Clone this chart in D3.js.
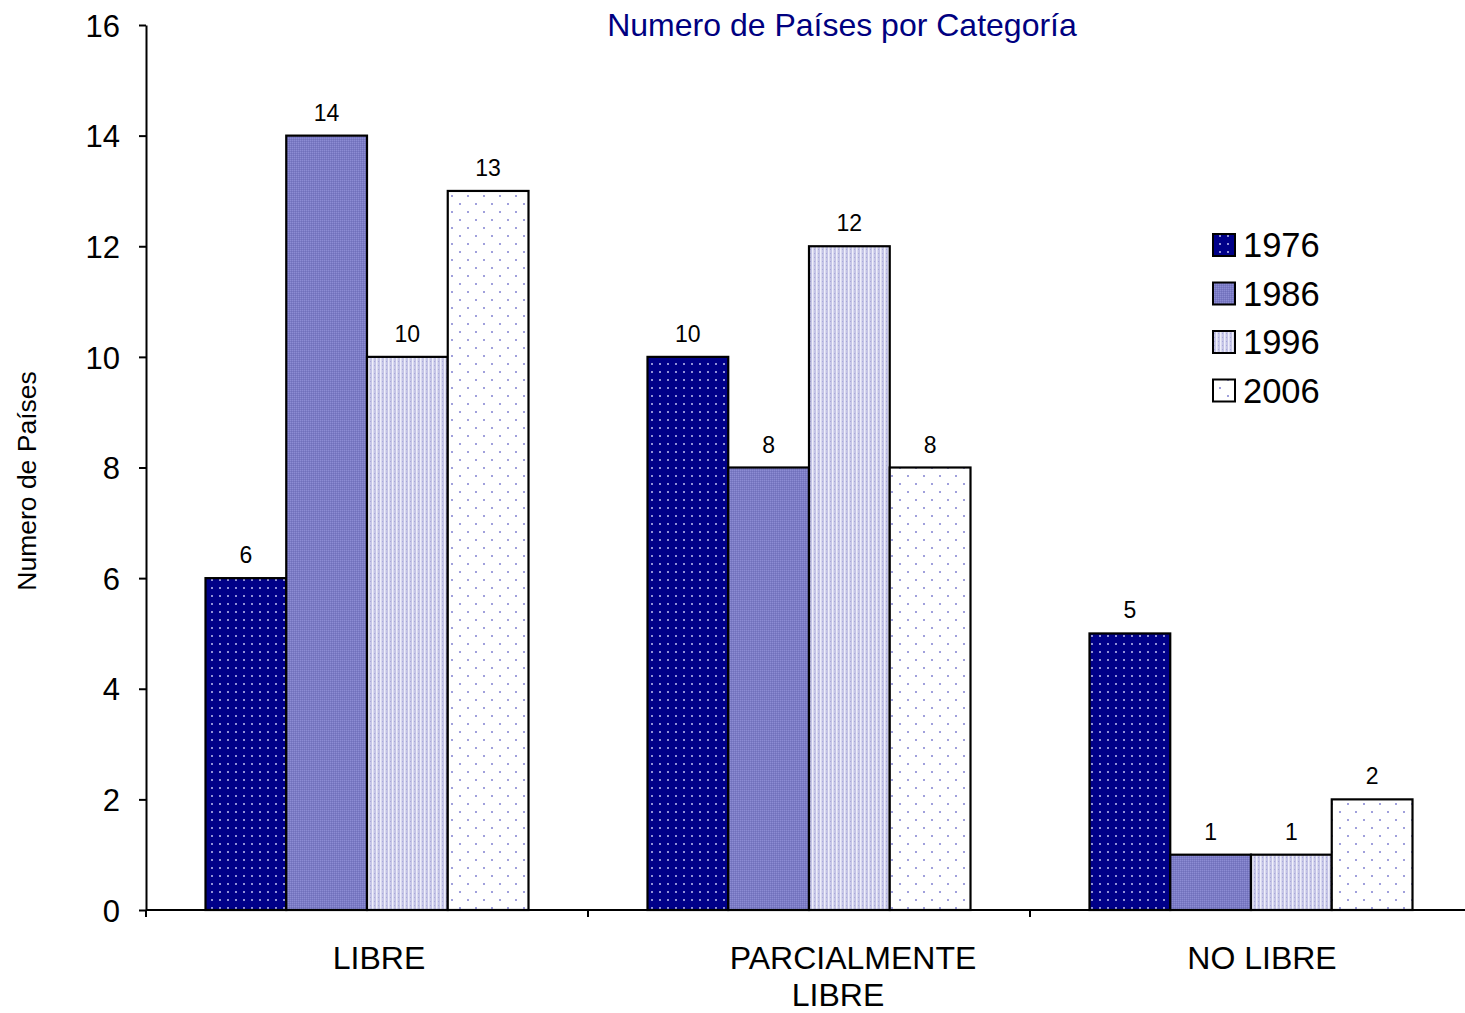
<!DOCTYPE html>
<html><head><meta charset="utf-8">
<script src="https://cdn.jsdelivr.net/npm/d3@7"></script>
<style>body{margin:0;background:#fff}svg{display:block;font-family:"Liberation Sans",Arial,sans-serif}</style>
</head><body>
<svg id="c" width="1465" height="1013"></svg>
<script>
const categories = ["LIBRE", "PARCIALMENTE LIBRE", "NO LIBRE"];
const seriesNames = ["1976", "1986", "1996", "2006"];
const values1976 = [6, 10, 5];
const values1986 = [14, 8, 1];
const values1996 = [10, 12, 1];
const values2006 = [13, 8, 2];
const yTicks = [0, 2, 4, 6, 8, 10, 12, 14, 16];
const seriesValues = [values1976, values1986, values1996, values2006];

const svg = d3.select("#c");
const defs = svg.append("defs");

function pat(id, w, h, bg, dots) {
  const p = defs.append("pattern").attr("id", id).attr("patternUnits", "userSpaceOnUse")
    .attr("width", w).attr("height", h);
  p.append("rect").attr("width", w).attr("height", h).attr("fill", bg);
  dots.forEach(d => p.append("rect").attr("x", d[0]).attr("y", d[1]).attr("width", d[2]).attr("height", d[3]).attr("fill", d[4]));
}
pat("p1976", 8, 8, "#000088", [[3,3,2,2,"#7c7cd0"],[3.5,3.5,1,1,"#d0d0f0"]]);
pat("p1986", 2, 2, "#7c7cc4", [[0,0,1,1,"#8c8cd4"],[1,1,1,1,"#7070bc"]]);
pat("p1996", 4, 4, "#c4c4e6", [[0,0,1.5,4,"#eeeefa"],[2,1,1,1,"#a8a8d8"]]);
pat("p2006", 16, 16, "#ffffff", [[3,3,2,2,"#a0a0dc"],[11,11,2,2,"#a0a0dc"]]);
const fills = ["url(#p1976)", "url(#p1986)", "url(#p1996)", "url(#p2006)"];

const x0 = d3.scaleBand().domain(categories).range([146, 1472]).padding(0);
const x1 = d3.scaleBand().domain(seriesNames).range([59.5, x0.bandwidth() - 59.5]).padding(0);
const y = d3.scaleLinear().domain([0, 16]).range([910, 25]);

const g = svg.append("g");
categories.forEach((c, ci) => {
  seriesNames.forEach((s, si) => {
    const v = seriesValues[si][ci];
    const bx = x0(c) + x1(s);
    g.append("rect").attr("x", bx).attr("y", y(v)).attr("width", x1.bandwidth()).attr("height", y(0) - y(v))
      .attr("fill", fills[si]).attr("stroke", "#000").attr("stroke-width", 2.2);
    g.append("text").attr("x", bx + x1.bandwidth() / 2).attr("y", y(v) - 15)
      .attr("text-anchor", "middle").attr("font-size", 23).attr("fill", "#000").text(v);
  });
});

const yAxis = svg.append("g").attr("transform", "translate(146,0)")
  .call(d3.axisLeft(y).tickValues(yTicks).tickSize(7).tickPadding(19).tickSizeOuter(0));
yAxis.select(".domain").attr("stroke-width", 2);
yAxis.selectAll(".tick line").attr("stroke-width", 2);
yAxis.selectAll(".tick text").attr("font-size", 31).attr("font-family", "Liberation Sans, Arial, sans-serif").attr("fill", "#000").attr("dy", "0.36em");

const xg = svg.append("g");
xg.append("line").attr("x1", 146).attr("x2", 1465).attr("y1", y(0)).attr("y2", y(0)).attr("stroke", "#000").attr("stroke-width", 2);
categories.forEach(c => {
  xg.append("line").attr("x1", x0(c)).attr("x2", x0(c)).attr("y1", y(0)).attr("y2", y(0) + 7).attr("stroke", "#000").attr("stroke-width", 2);
});
const catLines = [["LIBRE"], ["PARCIALMENTE", "LIBRE"], ["NO LIBRE"]];
const lineOffsets = [[12], [44, 29], [11]];
categories.forEach((c, ci) => {
  const cx = x0(c) + x0.bandwidth() / 2;
  const t = xg.append("text").attr("text-anchor", "middle").attr("font-size", 32).attr("fill", "#000");
  catLines[ci].forEach((ln, li) => {
    t.append("tspan").attr("x", cx + lineOffsets[ci][li]).attr("y", 969 + li * 37).text(ln);
  });
});

svg.append("text").attr("x", 842).attr("y", 36).attr("text-anchor", "middle").attr("font-size", 32)
  .attr("fill", "#000080").text("Numero de Países por Categoría");

svg.append("text").attr("transform", "translate(36,481) rotate(-90)").attr("text-anchor", "middle")
  .attr("font-size", 26.5).attr("fill", "#000").text("Numero de Países");

const lg = svg.append("g");
seriesNames.forEach((s, i) => {
  const cy = 245 + i * 48.5;
  lg.append("rect").attr("x", 1213).attr("y", cy - 11).attr("width", 22).attr("height", 22)
    .attr("fill", fills[i]).attr("stroke", "#000").attr("stroke-width", 2);
  lg.append("text").attr("x", 1243).attr("y", cy + 12).attr("font-size", 34.5).attr("fill", "#000").text(s);
});
</script>
</body></html>
